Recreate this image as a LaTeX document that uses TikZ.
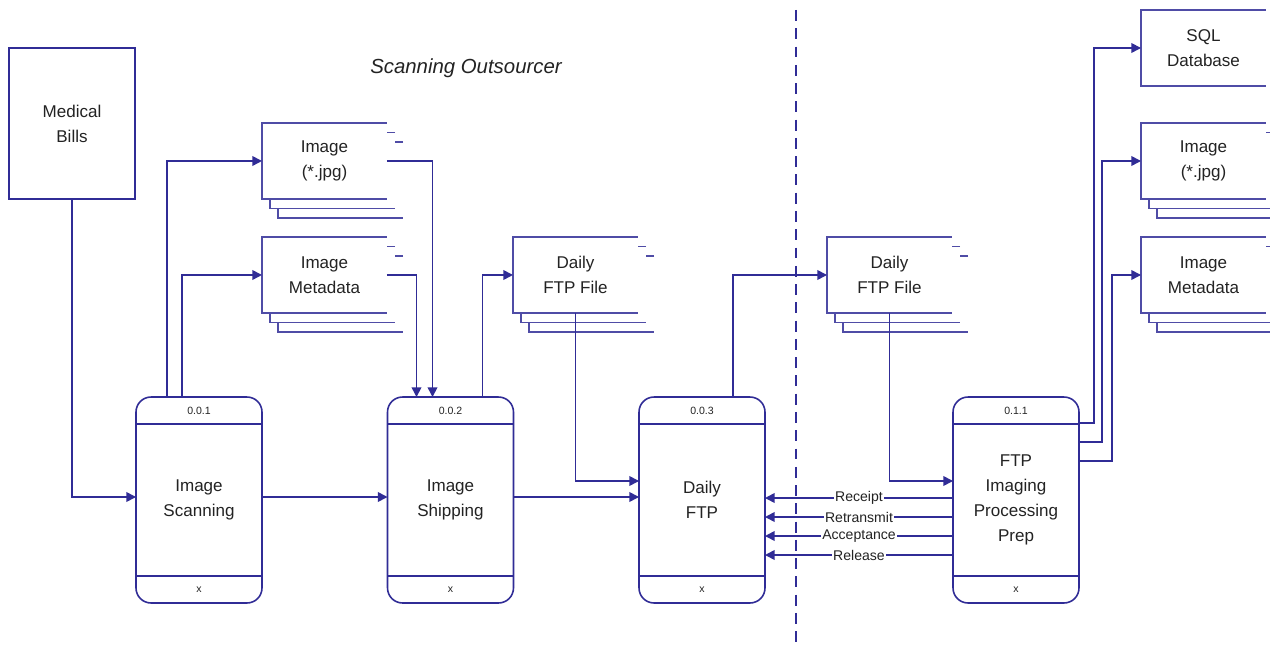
\documentclass[tikz,border=0pt]{standalone}
\usepackage{fontspec}
\setmainfont{Liberation Sans}
\usetikzlibrary{arrows.meta,calc}

\definecolor{flowblue}{RGB}{48,44,150}
\definecolor{inktext}{RGB}{35,35,35}

% single file store: name, top left corner, label
\newcommand{\filestore}[3]{%
  \node[store,anchor=north west] (#1) at (#2) {#3};
  \draw[storeline] (#1.north east) -- (#1.north west) -- (#1.south west) -- (#1.south east);
}
% stacked file store, two copies behind the front one
\newcommand{\filestack}[3]{%
  \foreach \k in {2,1}
    \draw[storeline,fill=white] ($(#2)+(125+8*\k,9.5*\k)$) -| ($(#2)+(8*\k,76+9.5*\k)$) -- ++(125,0);
  \filestore{#1}{#2}{#3}
}
% process box: name, centre, number, label
\newcommand{\procbox}[4]{%
  \node[process] (#1) at (#2) {#4};
  \draw[flow] ([shift={(0,27)}]#1.north west) -- ([shift={(0,27)}]#1.north east);
  \draw[flow] ([shift={(0,-27)}]#1.south west) -- ([shift={(0,-27)}]#1.south east);
  \node[tag] at ([shift={(0,13.5)}]#1.north) {#3};
  \node[tag] at ([shift={(0,-13.5)}]#1.south) {x};
}

\begin{document}
\begin{tikzpicture}[
		x=0.02cm, y=-0.02cm,
		bodyfont/.style={font=\fontsize{9.7}{14.2}\selectfont, text=inktext},
		flow/.style={draw=flowblue, line width=0.9pt},
		storeline/.style={draw=flowblue!85, line width=0.7pt},
		arrow/.style={flow, -{Triangle[length=5.5pt,width=5.5pt]}},
		store/.style={rectangle, minimum width=2.5cm, minimum height=1.52cm,
			fill=white, inner sep=0pt, outer sep=0pt, align=center, bodyfont},
		process/.style={flow, rectangle, rounded corners=0.3cm, minimum width=2.52cm,
			minimum height=4.12cm, fill=white, outer sep=0pt, align=center, bodyfont},
		source/.style={flow, rectangle, minimum width=2.52cm, minimum height=3.02cm,
			outer sep=0pt, align=center, bodyfont},
		tag/.style={font=\fontsize{6}{7}\selectfont, text=inktext, inner sep=0pt},
		msg/.style={font=\fontsize{8}{9}\selectfont, text=inktext, fill=white, inner sep=0.8pt}
		]
		\clip (0,0) rectangle (1270,648);
		\fill[white] (0,0) rectangle (1270,648);

		\node[font=\fontsize{11.6}{14}\selectfont\itshape, text=inktext] (zone) at (466,68) {Scanning Outsourcer};

		% boundary
		\draw[flow, dash pattern=on 6.2pt off 4.2pt] (796,10) -- (796,648);

		\node[source] (bills) at (72,123.5) {Medical\\Bills};

		\filestack{jpg}{262,123}{Image\\(*.jpg)}
		\filestack{meta}{262,237}{Image\\Metadata}
		\filestack{ftpa}{513,237}{Daily\\FTP File}
		\filestack{ftpb}{827,237}{Daily\\FTP File}
		\filestore{sql}{1141,10}{SQL\\Database}
		\filestack{jpgb}{1141,123}{Image\\(*.jpg)}
		\filestack{metab}{1141,237}{Image\\Metadata}

		\procbox{scan}{199,500}{0.0.1}{Image\\Scanning}
		\procbox{ship}{450.5,500}{0.0.2}{Image\\Shipping}
		\procbox{ftp}{702,500}{0.0.3}{Daily\\FTP}
		\procbox{prep}{1016,500}{0.1.1}{FTP\\Imaging\\Processing\\Prep}

		% scanning and shipping
		\draw[arrow] (bills.south) |- ([shift={(0,-3)}]scan.west);
		\draw[arrow] ([shift={(31,0)}]scan.north west) |- (jpg.west);
		\draw[arrow] ([shift={(46,0)}]scan.north west) |- (meta.west);
		\draw[arrow] ([shift={(0,-3)}]scan.east) -- ([shift={(0,-3)}]ship.west);
		\draw[arrow] (jpg.east) -| ([shift={(45,0)}]ship.north west);
		\draw[arrow] (meta.east) -| ([shift={(29,0)}]ship.north west);
		\draw[arrow] ([shift={(-31,0)}]ship.north east) |- (ftpa.west);
		\draw[arrow] ([shift={(0,-3)}]ship.east) -- ([shift={(0,-3)}]ftp.west);
		\draw[arrow] (ftpa.south) |- ([shift={(0,-19)}]ftp.west);

		% transfer
		\draw[arrow] ([shift={(-32,0)}]ftp.north east) |- (ftpb.west);
		\draw[arrow] (ftpb.south) |- ([shift={(0,-19)}]prep.west);
		\foreach \dy/\lbl in {-2/Receipt,17/Retransmit,36/Acceptance,55/Release}
			\draw[arrow] ([shift={(0,\dy)}]prep.west) -- node[msg] {\lbl} ([shift={(0,\dy)}]ftp.east);

		% loading
		\draw[arrow] ([shift={(0,-77)}]prep.east) -- ++(15,0) |- (sql.west);
		\draw[arrow] ([shift={(0,-58)}]prep.east) -- ++(23,0) |- (jpgb.west);
		\draw[arrow] ([shift={(0,-39)}]prep.east) -- ++(33,0) |- (metab.west);
\end{tikzpicture}
\end{document}
